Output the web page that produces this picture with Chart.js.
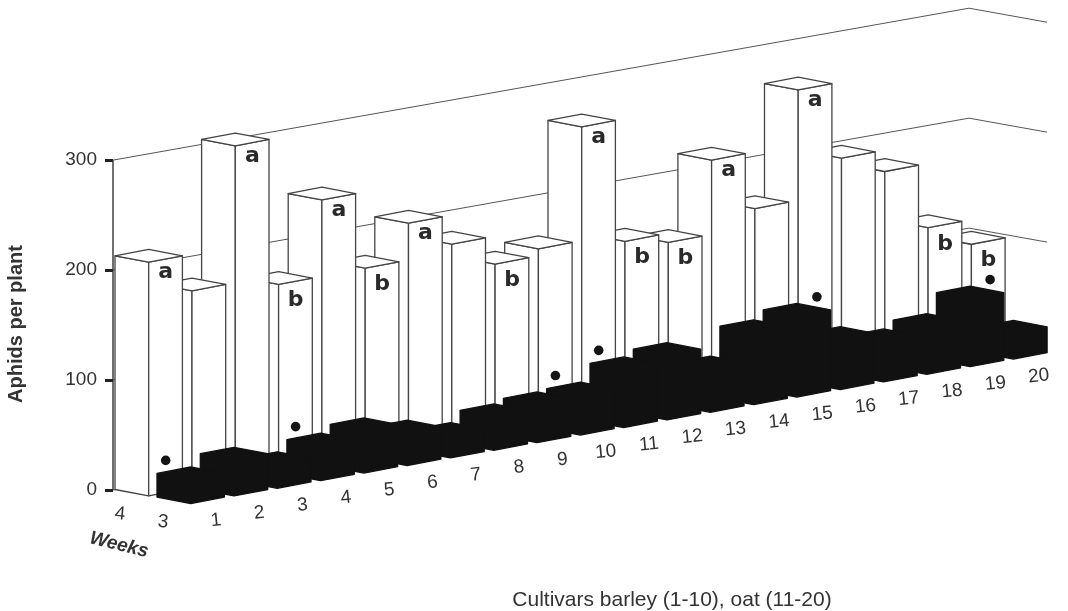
<!DOCTYPE html>
<html>
<head>
<meta charset="utf-8">
<style>
  html, body { margin: 0; padding: 0; background: #fff; }
  canvas { display: block; }
</style>
<script src="https://cdn.jsdelivr.net/npm/chart.js@4/dist/chart.umd.min.js"></script>
</head>
<body>
<canvas id="chart" width="1068" height="611"></canvas>
<script>
// values
const cultivars = ['1','2','3','4','5','6','7','8','9','10','11','12','13','14','15','16','17','18','19','20'];
const week4 = [213,180,305,172,242,173,207,181,156,163,267,156,148,216,165,266,197,178,120,98];
const week3 = [22,33,22,32,39,30,21,31,35,37,53,59,40,66,74,46,37,44,62,24];
const week4Letters = ['a','','a','b','a','b','a','','b','','a','b','b','a','','a','','','b','b'];
const dotsLeft = ['1','4','10','11'];
const dotsRight = ['15','19'];
const yTicks = [0,100,200,300];
const weekLabels = ['4','3'];

// oblique projection
const RISE = 0.1755;       // floor climbs to the right
const WALL_RISE = 0.1775;  // back wall lines climb a bit steeper
const HALF = 33.7;         // half of a box footprint
const TILT = 6.4;          // footprint tilt
const ROWS = [{dx: 2, dy: 0}, {dx: 44, dy: 7.6}];

function poly(ctx, pts, fill, stroke) {
    ctx.beginPath();
    pts.forEach((p, i) => i ? ctx.lineTo(p[0], p[1]) : ctx.moveTo(p[0], p[1]));
    ctx.closePath();
    ctx.fillStyle = fill;
    ctx.fill();
    ctx.strokeStyle = stroke;
    ctx.stroke();
}

function boxPoints(el, row, left) {
    const lift = (el.x - left) * RISE;
    const L = el.x + row.dx;
    const baseY = el.base + row.dy - lift;
    const topY = el.y + row.dy - lift;
    return {L, M: L + HALF, R: L + HALF * 2, baseY, topY};
}

const obliquePlugin = {
    id: 'oblique',
    afterDatasetsDraw(chart) {
        const ctx = chart.ctx;
        const yScale = chart.scales.y;
        const left = chart.chartArea.left;
        ctx.save();
        ctx.lineJoin = 'round';

        // back wall lines
        ctx.strokeStyle = '#555';
        ctx.lineWidth = 1;
        yTicks.forEach(v => {
            const y = yScale.getPixelForValue(v);
            ctx.beginPath();
            ctx.moveTo(left, y);
            ctx.lineTo(left + 856, y - 856 * WALL_RISE);
            ctx.lineTo(left + 934, y - 856 * WALL_RISE + 14);
            ctx.stroke();
        });
        ctx.strokeStyle = '#333';
        ctx.lineWidth = 1.4;
        ctx.beginPath();
        ctx.moveTo(left, yScale.getPixelForValue(0));
        ctx.lineTo(left, yScale.getPixelForValue(300));
        ctx.stroke();

        // week 4 boxes, far ones first
        const backBars = chart.getDatasetMeta(0).data;
        ctx.lineWidth = 1.3;
        for (let i = backBars.length - 1; i >= 0; i--) {
            const b = boxPoints(backBars[i], ROWS[0], left);
            poly(ctx, [[b.L, b.topY], [b.M, b.topY + TILT], [b.M, b.baseY + TILT], [b.L, b.baseY]], '#fff', '#444');
            poly(ctx, [[b.M, b.topY + TILT], [b.R, b.topY], [b.R, b.baseY], [b.M, b.baseY + TILT]], '#fff', '#444');
            poly(ctx, [[b.L, b.topY], [b.M, b.topY - TILT], [b.R, b.topY], [b.M, b.topY + TILT]], '#fff', '#444');
            if (week4Letters[i]) {
                ctx.fillStyle = '#2a2a2a';
                ctx.font = 'bold 22px "DejaVu Sans"';
                ctx.textAlign = 'center';
                ctx.textBaseline = 'alphabetic';
                const drop = week4Letters[i] === 'a' ? 16 : 22;
                ctx.fillText(week4Letters[i], b.M + 17, b.topY + TILT + drop);
            }
        }

        // week 3 boxes are solid black
        const frontBars = chart.getDatasetMeta(1).data;
        for (let i = frontBars.length - 1; i >= 0; i--) {
            const b = boxPoints(frontBars[i], ROWS[1], left);
            poly(ctx, [[b.L, b.topY], [b.M, b.topY - TILT], [b.R, b.topY], [b.R, b.baseY], [b.M, b.baseY + TILT], [b.L, b.baseY]], '#111', '#111');
        }

        // significance dots above the black boxes
        ctx.fillStyle = '#151515';
        const dot = (label, shift) => {
            const i = cultivars.indexOf(label);
            const b = boxPoints(frontBars[i], ROWS[1], left);
            ctx.beginPath();
            ctx.arc(b.M + shift, b.topY - 13, 4.8, 0, Math.PI * 2);
            ctx.fill();
        };
        dotsLeft.forEach(l => dot(l, -25));
        dotsRight.forEach(l => dot(l, 20));

        // cultivar numbers run along the floor
        ctx.fillStyle = '#333';
        ctx.font = '19px "Liberation Sans"';
        ctx.textAlign = 'center';
        ctx.textBaseline = 'middle';
        backBars.forEach((el, i) => {
            const lift = (el.x - left) * RISE;
            ctx.save();
            ctx.translate(el.x + 103, el.base - lift + 31);
            ctx.rotate(-0.1);
            ctx.fillText(cultivars[i], 0, 0);
            ctx.restore();
        });
        weekLabels.forEach((w, i) => {
            ctx.save();
            ctx.translate(left + 7 + i * 43, yScale.getPixelForValue(0) + 24 + i * 8);
            ctx.rotate(0.1);
            ctx.fillText(w, 0, 0);
            ctx.restore();
        });

        // titles
        ctx.save();
        ctx.translate(119, 545);
        ctx.rotate(0.24);
        ctx.font = 'italic bold 19px "Liberation Sans"';
        ctx.fillText('Weeks', 0, 0);
        ctx.restore();

        ctx.font = 'bold 20px "Liberation Sans"';
        ctx.save();
        ctx.translate(16, 324);
        ctx.rotate(-Math.PI / 2);
        ctx.fillText('Aphids per plant', 0, 0);
        ctx.restore();

        ctx.font = '21px "Liberation Sans"';
        ctx.fillText('Cultivars barley (1-10), oat (11-20)', 672, 600);
        ctx.restore();
    }
};

new Chart(document.getElementById('chart'), {
    type: 'bar',
    data: {
        labels: cultivars,
        datasets: [
            {label: 'Week 4', data: week4, backgroundColor: 'transparent', borderWidth: 0},
            {label: 'Week 3', data: week3, backgroundColor: 'transparent', borderWidth: 0}
        ]
    },
    options: {
        responsive: false,
        animation: false,
        layout: {padding: {left: 0, right: 132.3, top: 0, bottom: 0}},
        plugins: {legend: {display: false}, tooltip: {enabled: false}},
        datasets: {bar: {grouped: false}},
        scales: {
            x: {
                offset: false,
                ticks: {display: false},
                grid: {display: false},
                border: {display: false},
                afterFit(s) { s.height = 121; }
            },
            y: {
                min: 0,
                max: 428,
                afterBuildTicks(s) { s.ticks = yTicks.map(value => ({value})); },
                ticks: {color: '#333', font: {family: 'Liberation Sans', size: 19}, padding: 8},
                grid: {drawOnChartArea: false, tickLength: 8, tickColor: '#222', tickWidth: 3},
                border: {display: false},
                afterFit(s) { s.width = 113; }
            }
        }
    },
    plugins: [obliquePlugin]
});
</script>
</body>
</html>
